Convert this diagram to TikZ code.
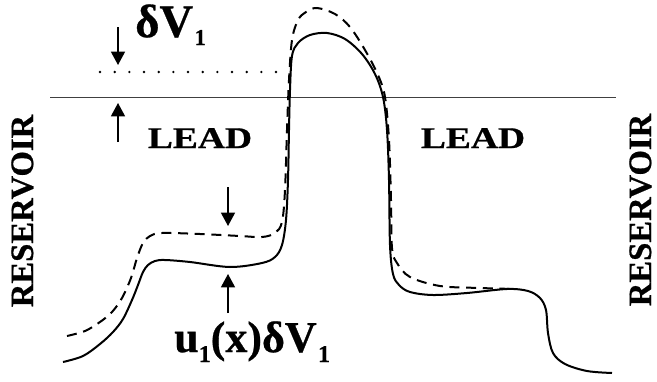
\documentclass[tikz,border=0pt]{standalone}
\usepackage{fontspec}
\setmainfont{Liberation Serif}[BoldFeatures={FakeBold=0.6}]
\usetikzlibrary{arrows.meta}
\tikzset{
  curve/.style={line width=1.5pt, line join=round},
  dcurve/.style={line width=1.5pt, dash pattern=on 7.5pt off 5pt},
  marker/.style={line width=1.1pt, -{Triangle[width=10.5pt,length=10pt]}},
  lbl/.style={inner sep=0pt, font=\bfseries},
}
\begin{document}
\begin{tikzpicture}[x=0.75pt,y=-0.75pt]
\useasboundingbox (0,0) rectangle (657,382);
% baseline
\coordinate (hl) at (50,97.5);
\coordinate (hr) at (616,97.5);
\draw[line width=0.8pt, black!75] (hl) -- (hr);
% dotted level
\coordinate (dl) at (100,72);
\coordinate (dr) at (282,72);
\draw[line width=2pt, line cap=round, dash pattern=on 0pt off 11pt] (dl) -- (dr);
% arrows for delta V1
\coordinate (a1s) at (118,27); \coordinate (a1e) at (118,65);
\coordinate (a2s) at (118,142); \coordinate (a2e) at (118,103);
\draw[marker] (a1s) -- (a1e);
\draw[marker] (a2s) -- (a2e);
% arrows for u1 dV1
\coordinate (a3s) at (228,187); \coordinate (a3e) at (228,226);
\coordinate (a4s) at (228,313); \coordinate (a4e) at (228,274);
\draw[marker] (a3s) -- (a3e);
\draw[marker] (a4s) -- (a4e);
% solid potential
\draw[curve] plot[smooth, tension=0.55] coordinates {
 (63,362) (83,356) (100,344) (113,332) (123,319) (132,300) (138,285) (143,272) (148,265) (155,261) (165,260)
 (190,262) (230,267) (262,263) (275,257) (282,245) (286,220) (288,180) (289,130) (290,90) (292,56)
 (298,43) (310,35) (327,33) (345,39) (362,54) (375,74) (383,97) (387,130) (389,180) (390,245)
 (393,274) (399,285) (410,292) (433,295) (467,293) (507,289) (528,291) (540,298) (546,310) (548,333)
 (553,353) (565,364) (587,371) (612,373)};
% dashed potential
\draw[dcurve] plot[smooth, tension=0.55] coordinates {
 (67,336) (85,331) (100,322) (112,312) (122,298) (131,278) (137,258) (143,243) (150,236) (162,233)
 (200,234) (240,236) (262,237) (275,233) (282,222) (285,190) (287,130) (289,80) (292,40) (298,20)
 (306,12) (317,8) (335,14) (350,27) (365,50) (378,75) (385,97) (389,140) (391,200) (392,248)
 (397,263) (410,277) (440,286) (480,288) (515,289)};
% labels
\node[lbl, anchor=base west, font=\fontsize{35}{35}\bfseries] (dv) at (135,37)
  {δV\hspace{1pt}\raisebox{-6pt}{\fontsize{17}{17}\selectfont 1}};
\node[lbl, anchor=base, font=\fontsize{22.5}{22.5}\bfseries] (leadl) at (200,148) {\scalebox{1.25}[1]{LEAD}};
\node[lbl, anchor=base, font=\fontsize{22.5}{22.5}\bfseries] (leadr) at (473,148) {\scalebox{1.25}[1]{LEAD}};
\node[lbl, anchor=base, rotate=90, font=\fontsize{24.5}{24.5}\bfseries] (resl) at (33,211) {RESERVOIR};
\node[lbl, anchor=base, rotate=90, font=\fontsize{24.5}{24.5}\bfseries] (resr) at (651,210) {RESERVOIR};
\node[lbl, anchor=base west, font=\fontsize{33}{33}\bfseries] (u1) at (174,352)
  {u\raisebox{-7.5pt}{\fontsize{18}{18}\selectfont 1}(x)δV\hspace{1pt}\raisebox{-7.5pt}{\fontsize{18}{18}\selectfont 1}};
\end{tikzpicture}
\end{document}
